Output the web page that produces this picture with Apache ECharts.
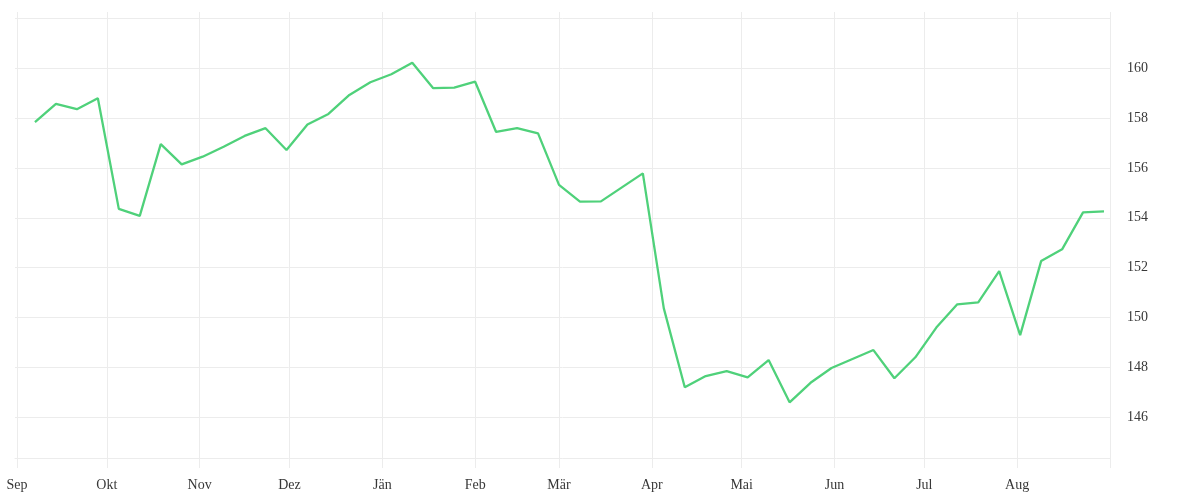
<!DOCTYPE html>
<html>
<head>
<meta charset="utf-8">
<script src="https://cdn.jsdelivr.net/npm/echarts@6/dist/echarts.min.js"></script>
<style>
html,body{margin:0;padding:0;background:#fff;}
#chart{width:1200px;height:500px;}
</style>
</head>
<body>
<div id="chart"></div>
<script>
const dates = [
  '2022-09-07','2022-09-14','2022-09-21','2022-09-28','2022-10-05','2022-10-12','2022-10-19','2022-10-26',
  '2022-11-02','2022-11-09','2022-11-16','2022-11-23','2022-11-30','2022-12-07','2022-12-14','2022-12-21',
  '2022-12-28','2023-01-04','2023-01-11','2023-01-18','2023-01-25','2023-02-01','2023-02-08','2023-02-15',
  '2023-02-22','2023-03-01','2023-03-08','2023-03-15','2023-03-22','2023-03-29','2023-04-05','2023-04-12',
  '2023-04-19','2023-04-26','2023-05-03','2023-05-10','2023-05-17','2023-05-24','2023-05-31','2023-06-07',
  '2023-06-14','2023-06-21','2023-06-28','2023-07-05','2023-07-12','2023-07-19','2023-07-26','2023-08-02',
  '2023-08-09','2023-08-16','2023-08-23','2023-08-30'
];
const values = [
  157.84,158.57,158.36,158.80,154.37,154.09,156.96,156.15,
  156.46,156.86,157.29,157.60,156.73,157.75,158.17,158.93,
  159.44,159.76,160.22,159.20,159.22,159.46,157.45,157.60,
  157.39,155.33,154.66,154.67,155.23,155.79,150.39,147.23,
  147.68,147.88,147.63,148.32,146.63,147.41,148.00,148.36,
  148.72,147.59,148.43,149.62,150.55,150.63,151.88,149.32,
  152.28,152.75,154.23,154.27
];
const monthNames = ['Jän','Feb','Mär','Apr','Mai','Jun','Jul','Aug','Sep','Okt','Nov','Dez'];
const xStart = '2022-09-01';
const xEnd = '2023-09-01';
const yTickMin = 146, yTickMax = 162, yStep = 2;

const FONT = '"Liberation Serif", "DejaVu Serif", serif';
const GRID_COLOR = '#ececec';
const TEXT_COLOR = '#383838';
const chart = echarts.init(document.getElementById('chart'));
const DAY = 86400000;
const endTs = new Date(xEnd + 'T00:00:00').getTime();

chart.setOption({
  animation: false,
  grid: [
    {left: 17, right: 90, top: 12, bottom: 32},
    {left: 15, right: 90, top: 18.25, bottom: 82.7}
  ],
  xAxis: [
    {
      type: 'time', gridIndex: 0,
      min: xStart, max: xEnd,
      splitNumber: 12,
      minInterval: 28 * DAY, maxInterval: 31 * DAY,
      axisLine: {show: false},
      axisTick: {show: false},
      splitLine: {show: true, lineStyle: {color: GRID_COLOR, width: 1}},
      axisLabel: {
        show: true, margin: 8, padding: [2, 0, 0, 0],
        color: TEXT_COLOR, fontSize: 14, fontFamily: FONT,
        formatter: function (v) {
          if (v >= endTs - DAY) return '';
          return monthNames[new Date(v).getMonth()];
        }
      }
    },
    {
      type: 'value', gridIndex: 1, min: 0, max: 1, position: 'bottom', offset: 41,
      axisLine: {show: true, lineStyle: {color: GRID_COLOR, width: 1}},
      axisTick: {show: false}, axisLabel: {show: false}, splitLine: {show: false}
    }
  ],
  yAxis: [
    {type: 'value', gridIndex: 0, min: 144, max: 162.25, show: false},
    {
      type: 'value', gridIndex: 1, position: 'right',
      min: yTickMin, max: yTickMax, interval: yStep,
      axisLine: {show: false}, axisTick: {show: false},
      splitLine: {show: true, lineStyle: {color: GRID_COLOR, width: 1}},
      axisLabel: {
        margin: 17, padding: [6, 0, 0, 0],
        color: TEXT_COLOR, fontSize: 14, fontFamily: FONT,
        showMinLabel: true, showMaxLabel: false,
        formatter: function (v) { return v >= yTickMax ? '' : String(v); }
      }
    }
  ],
  series: [{
    type: 'line',
    xAxisIndex: 0, yAxisIndex: 0,
    data: dates.map((d, i) => [d, values[i]]),
    showSymbol: false,
    lineStyle: {color: '#4fd17a', width: 2.3},
    itemStyle: {color: '#4fd17a'}
  }]
});
</script>
</body>
</html>
